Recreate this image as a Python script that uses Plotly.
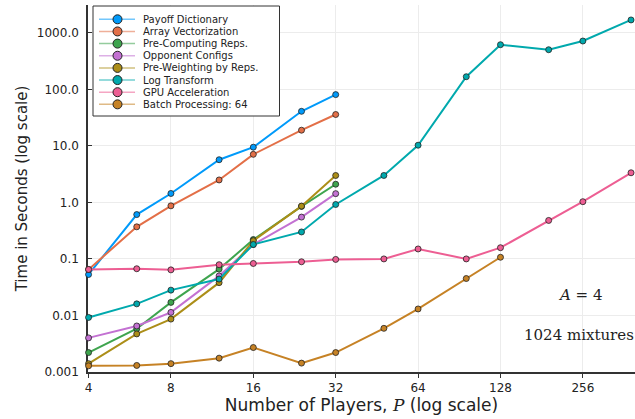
import numpy as np
import plotly.graph_objects as go

players_full = [4, 6, 8, 12, 16, 24, 32, 48, 64, 96, 128, 192, 256, 384]
players_32 = [4, 6, 8, 12, 16, 24, 32]
players_128 = [4, 6, 8, 12, 16, 24, 32, 48, 64, 96, 128]

payoff_dict = [0.053, 0.61, 1.44, 5.7, 9.5, 41, 81]
array_vec = [0.065, 0.37, 0.87, 2.5, 7.1, 19, 36]
pre_computing = [0.0022, 0.0058, 0.017, 0.066, 0.22, 0.85, 2.1]
opponent_cfg = [0.004, 0.0065, 0.0113, 0.05, 0.18, 0.55, 1.43]
pre_weighting = [0.0014, 0.0047, 0.0086, 0.038, 0.21, 0.86, 3.0]
log_transform = [0.0092, 0.016, 0.028, 0.044, 0.18, 0.30, 0.92, 3.0, 10.3, 168, 620, 505, 720, 1700]
gpu_accel = [0.065, 0.067, 0.064, 0.079, 0.083, 0.089, 0.098, 0.10, 0.15, 0.10, 0.158, 0.48, 1.03, 3.35]
batch_proc = [0.00128, 0.0013, 0.0014, 0.00175, 0.0027, 0.00143, 0.0022, 0.0059, 0.013, 0.045, 0.107]

series_names = ["Payoff Dictionary", "Array Vectorization", "Pre-Computing Reps.",
                "Opponent Configs", "Pre-Weighting by Reps.", "Log Transform",
                "GPU Acceleration", "Batch Processing: 64"]
series_x = [players_32, players_32, players_32, players_32, players_32,
            players_full, players_full, players_128]
series_y = [payoff_dict, array_vec, pre_computing, opponent_cfg, pre_weighting,
            log_transform, gpu_accel, batch_proc]
colors = ["#009AFA", "#E36F47", "#3EA44E", "#C371D2", "#AC8E18", "#00A9AD", "#ED5E93", "#C68225"]

x_ticks = [4, 8, 16, 32, 64, 128, 256]
y_ticks = [0.001, 0.01, 0.1, 1, 10, 100, 1000]
y_tick_labels = ["0.001", "0.01", "0.1", "1.0", "10.0", "100.0", "1000.0"]

W, H = 635, 419
ML, MR, MT, MB = 88, 0, 5, 47
PW, PH = W - ML - MR, H - MT - MB


def px_x(px):
    return (px - ML) / PW


def px_y(py):
    return (H - MB - py) / PH


fig = go.Figure()
for name, xs, ys, col in zip(series_names, series_x, series_y, colors):
    fig.add_trace(go.Scatter(
        x=xs, y=ys, name=name, mode="lines+markers",
        line=dict(color=col, width=2),
        marker=dict(color=col, size=6, line=dict(color="#222222", width=0.8)),
        cliponaxis=False,
    ))

# custom compact legend (Julia GR style)
shapes = [dict(type="rect", xref="paper", yref="paper",
               x0=px_x(93), x1=px_x(279.5), y0=px_y(116), y1=px_y(6),
               fillcolor="white", line=dict(color="#333333", width=1), layer="above")]
annotations = []
row0, dy = 19.3, 12.15
for i, (name, col) in enumerate(zip(series_names, colors)):
    yy = px_y(row0 + i * dy)
    shapes.append(dict(type="line", xref="paper", yref="paper",
                       x0=px_x(99), x1=px_x(135), y0=yy, y1=yy,
                       line=dict(color=col, width=1.5), opacity=0.55, layer="above"))
    shapes.append(dict(type="circle", xref="paper", yref="paper",
                       xsizemode="pixel", ysizemode="pixel",
                       xanchor=px_x(117.5), yanchor=yy,
                       x0=-4.5, x1=4.5, y0=-4.5, y1=4.5,
                       fillcolor=col, line=dict(color="#222222", width=1), layer="above"))
    annotations.append(dict(x=px_x(141), y=yy, xref="paper", yref="paper",
                            xanchor="left", yanchor="middle", showarrow=False,
                            text=name, font=dict(family="DejaVu Sans", size=10, color="#222222")))

annotations.append(dict(x=px_x(580), y=px_y(295), xref="paper", yref="paper",
                        text="<i>A</i> = 4", showarrow=False,
                        xanchor="center", yanchor="middle",
                        font=dict(family="DejaVu Serif", size=15, color="#222222")))
annotations.append(dict(x=px_x(579), y=px_y(335), xref="paper", yref="paper",
                        text="1024 mixtures", showarrow=False,
                        xanchor="center", yanchor="middle",
                        font=dict(family="DejaVu Serif", size=15, color="#222222")))

fig.update_layout(
    width=W, height=H,
    margin=dict(l=ML, r=MR, t=MT, b=MB, autoexpand=False),
    paper_bgcolor="white", plot_bgcolor="white",
    font=dict(family="DejaVu Sans", color="#222222"),
    showlegend=False,
    shapes=shapes,
    annotations=annotations,
)
fig.update_xaxes(
    type="log", range=[np.log10(4) - 0.002, np.log10(397)],
    tickvals=x_ticks, ticktext=[str(v) for v in x_ticks],
    showgrid=True, gridcolor="#ececec", gridwidth=1,
    showline=True, linecolor="#333333", linewidth=1.5,
    ticks="outside", ticklen=4, tickcolor="#333333",
    tickfont=dict(size=12),
    zeroline=False, layer="below traces",
    title=dict(text="Number of Players, <span style='font-family:DejaVu Serif'><i>P</i></span> (log scale)",
               font=dict(size=17), standoff=2),
    automargin=False,
)
fig.update_yaxes(
    type="log", range=[-3.002, 3.495],
    tickvals=y_ticks, ticktext=y_tick_labels,
    showgrid=True, gridcolor="#ececec", gridwidth=1,
    showline=True, linecolor="#333333", linewidth=1.5,
    ticks="inside", ticklen=4, tickcolor="#333333",
    tickfont=dict(size=12), ticklabelstandoff=5,
    zeroline=False, layer="below traces",
    title=dict(text="Time in Seconds (log scale)", font=dict(size=15), standoff=6),
    automargin=False,
)

fig.write_html("out.html", config={"displayModeBar": False},
               post_script="document.body.style.margin='0';")
